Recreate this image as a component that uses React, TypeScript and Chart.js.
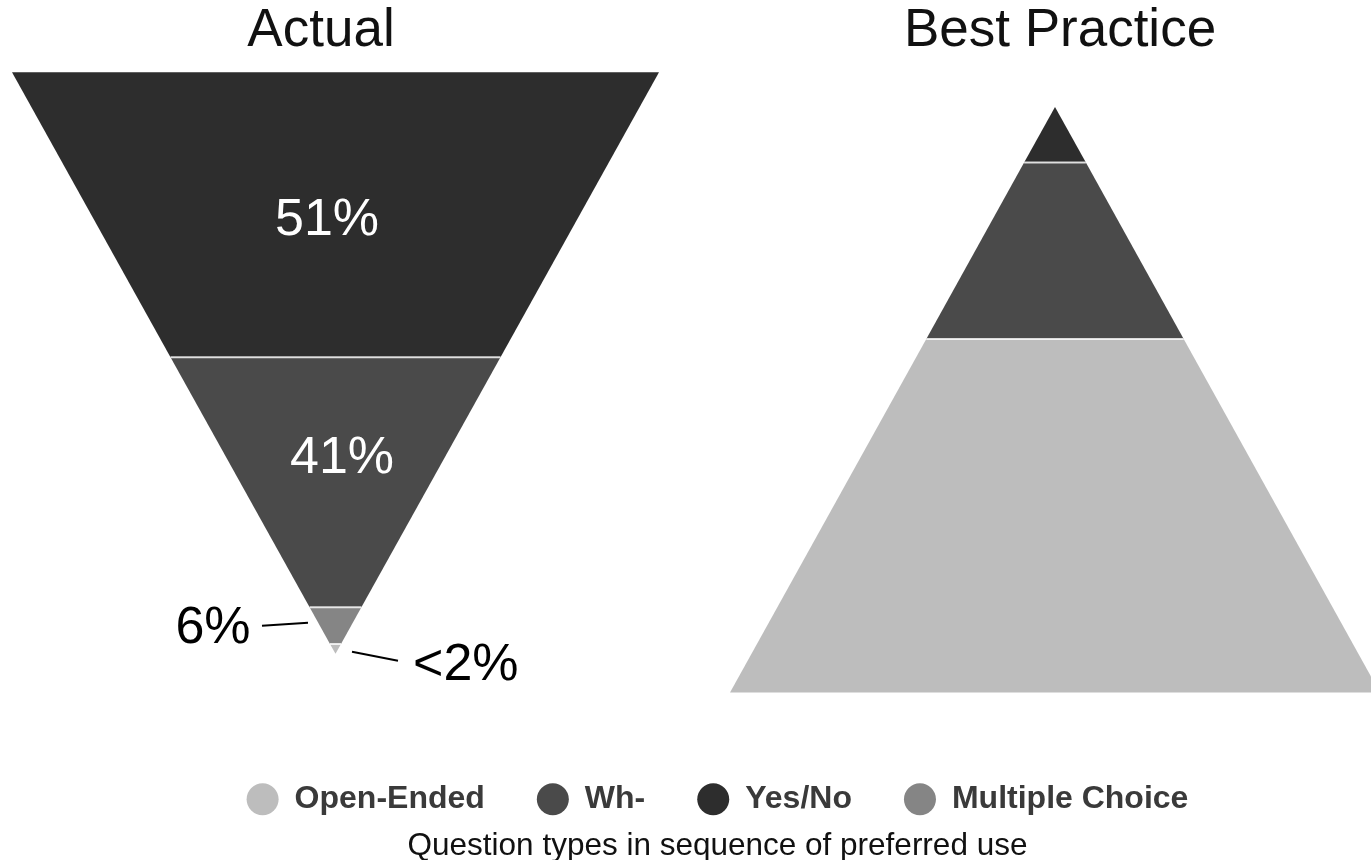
import React, { useEffect, useRef } from 'react';
import { Chart, registerables } from 'chart.js';

Chart.register(...registerables);

// ---------------- data ----------------
const LEGEND_CATEGORIES = ['Open-Ended', 'Wh-', 'Yes/No', 'Multiple Choice'];
const LEGEND_COLORS = ['#bdbdbd', '#4a4a4a', '#2d2d2d', '#858585'];

// Actual (inverted pyramid), top to bottom
const ACTUAL_CATEGORIES = ['Yes/No', 'Wh-', 'Multiple Choice', 'Open-Ended'];
const ACTUAL_VALUES = [49, 43, 6.3, 1.7];
const ACTUAL_LABELS = ['51%', '41%', '6%', '<2%'];

// Best practice (pyramid), top to bottom
const BEST_CATEGORIES = ['Yes/No', 'Wh-', 'Open-Ended'];
const BEST_VALUES = [9.5, 30.1, 60.4];

const PANEL_TITLES = ['Actual', 'Best Practice'];
const SUBTITLE = 'Question types in sequence of preferred use';

// ---------------- layout ----------------
const W = 1371;
const H = 860;
const RIGHT_BLEED = 64;
const PLOT_BOTTOM = 729.2;

type Panel = {
  cx: number; top: number; bottom: number; halfWide: number; wideAtTop: boolean;
  titleDx: number; titleY: number;
};
const PANELS: Panel[] = [
  { cx: 335.5, top: 72, bottom: 652, halfWide: 323.5, wideAtTop: true, titleDx: -14.5, titleY: 31 },
  { cx: 1055, top: 106.7, bottom: 690.7, halfWide: 325, wideAtTop: false, titleDx: 5, titleY: 31 },
];

const LABEL_LAYOUT = [
  { dx: -8.5, dy: 5.5, color: '#ffffff', leader: null as null | number[] },
  { dx: 6.5, dy: -23.5, color: '#ffffff', leader: null as null | number[] },
  { dx: -122.5, dy: 2.6, color: '#000000', leader: [-73.5, 0.1, -27.5, -2.9] },
  { dx: 130.3, dy: 16.45, color: '#000000', leader: [16.5, 2.95, 62.5, 11.95] },
];

const colorOf = (cat: string) => LEGEND_COLORS[LEGEND_CATEGORIES.indexOf(cat)];

function segmentsOf(panel: Panel, values: number[]) {
  const total = values.reduce((a, b) => a + b, 0);
  const h = panel.bottom - panel.top;
  let y = panel.top;
  return values.map((v) => {
    const y0 = y;
    const y1 = y + (h * v) / total;
    y = y1;
    return { y0, y1 };
  });
}

function halfWidth(panel: Panel, y: number) {
  const apexY = panel.wideAtTop ? panel.bottom : panel.top;
  return (panel.halfWide * Math.abs(y - apexY)) / (panel.bottom - panel.top);
}

function polygon(panel: Panel, y0: number, y1: number) {
  const h0 = halfWidth(panel, y0);
  const h1 = halfWidth(panel, y1);
  const cx = panel.cx;
  if (h0 >= h1) {
    return [
      { x: cx - h0, y: y0 }, { x: cx - h1, y: y1 }, { x: cx + h1, y: y1 }, { x: cx + h0, y: y0 },
    ];
  }
  return [
    { x: cx - h1, y: y1 }, { x: cx - h0, y: y0 }, { x: cx + h0, y: y0 }, { x: cx + h1, y: y1 },
  ];
}

function buildDatasets() {
  const ds: any[] = [];
  const panelsData: [Panel, string[], number[]][] = [
    [PANELS[0], ACTUAL_CATEGORIES, ACTUAL_VALUES],
    [PANELS[1], BEST_CATEGORIES, BEST_VALUES],
  ];
  panelsData.forEach(([panel, cats, vals]) => {
    const segs = segmentsOf(panel, vals);
    segs.forEach((s, i) => {
      ds.push({
        label: cats[i],
        data: polygon(panel, s.y0, s.y1),
        showLine: true,
        fill: 'shape',
        backgroundColor: colorOf(cats[i]),
        borderWidth: 0,
        pointRadius: 0,
        pointHoverRadius: 0,
        pointBorderWidth: 0,
        order: 2,
      });
    });
    segs.slice(0, -1).forEach((s) => {
      const hw = halfWidth(panel, s.y1);
      ds.push({
        label: 'sep',
        data: [{ x: panel.cx - hw, y: s.y1 }, { x: panel.cx + hw, y: s.y1 }],
        showLine: true,
        fill: false,
        borderColor: 'rgba(255,255,255,0.8)',
        borderWidth: 2,
        pointRadius: 0,
        pointHoverRadius: 0,
        pointBorderWidth: 0,
        order: 1,
      });
    });
  });
  return ds;
}

const textPlugin = {
  id: 'funnelText',
  afterDatasetsDraw(chart: any) {
    const { ctx } = chart;
    const xs = chart.scales.x;
    const ys = chart.scales.y;
    ctx.save();
    ctx.textAlign = 'center';
    ctx.textBaseline = 'middle';
    // titles
    ctx.font = '53px "Liberation Sans", Arial, sans-serif';
    ctx.fillStyle = '#111111';
    PANELS.forEach((p, i) => {
      ctx.fillText(PANEL_TITLES[i], xs.getPixelForValue(p.cx + p.titleDx), ys.getPixelForValue(p.titleY));
    });
    // value labels for Actual
    const segs = segmentsOf(PANELS[0], ACTUAL_VALUES);
    ctx.font = '52px "Liberation Sans", Arial, sans-serif';
    segs.forEach((s, i) => {
      const lay = LABEL_LAYOUT[i];
      const mx = PANELS[0].cx;
      const my = (s.y0 + s.y1) / 2;
      ctx.fillStyle = lay.color;
      ctx.fillText(ACTUAL_LABELS[i], xs.getPixelForValue(mx + lay.dx), ys.getPixelForValue(my + lay.dy));
      if (lay.leader) {
        ctx.strokeStyle = '#000000';
        ctx.lineWidth = 2;
        ctx.beginPath();
        ctx.moveTo(xs.getPixelForValue(mx + lay.leader[0]), ys.getPixelForValue(my + lay.leader[1]));
        ctx.lineTo(xs.getPixelForValue(mx + lay.leader[2]), ys.getPixelForValue(my + lay.leader[3]));
        ctx.stroke();
      }
    });
    ctx.restore();
  },
};

export default function App() {
  const canvasRef = useRef<HTMLCanvasElement | null>(null);

  useEffect(() => {
    if (!canvasRef.current) return;
    const chart = new Chart(canvasRef.current, {
      type: 'scatter',
      data: { datasets: buildDatasets() },
      options: {
        animation: false,
        responsive: false,
        maintainAspectRatio: false,
        events: [],
        layout: { autoPadding: false, padding: { top: 0, left: 0, bottom: 0, right: -RIGHT_BLEED } },
        scales: {
          x: { type: 'linear', min: 0, max: W, display: false },
          y: { type: 'linear', min: 0, max: PLOT_BOTTOM, reverse: true, display: false },
        },
        plugins: {
          tooltip: { enabled: false },
          legend: {
            display: true,
            position: 'bottom',
            align: 'center',
            labels: {
              usePointStyle: true,
              pointStyleWidth: 32,
              boxHeight: 22.6,
              padding: 52,
              color: '#3a3a3a',
              font: { family: '"Liberation Sans", Arial, sans-serif', size: 32, weight: 'bold' },
              generateLabels: () =>
                LEGEND_CATEGORIES.map((c, i) => ({
                  text: c,
                  fillStyle: LEGEND_COLORS[i],
                  strokeStyle: 'rgba(0,0,0,0)',
                  lineWidth: 0,
                  pointStyle: 'circle',
                  hidden: false,
                  index: i,
                  fontColor: '#3a3a3a',
                })),
            },
          },
          subtitle: {
            display: true,
            position: 'bottom',
            text: SUBTITLE,
            color: '#111111',
            font: { family: '"Liberation Sans", Arial, sans-serif', size: 31.5, weight: 'normal' },
            padding: { top: 2, bottom: -5 },
          },
          title: { display: false },
        },
      } as any,
      plugins: [textPlugin],
    });
    return () => chart.destroy();
  }, []);

  return (
    <div style={{ position: 'fixed', left: 0, top: 0, width: W, height: H, background: '#ffffff' }}>
      <canvas ref={canvasRef} width={W} height={H} style={{ display: 'block', width: W, height: H }} />
    </div>
  );
}
